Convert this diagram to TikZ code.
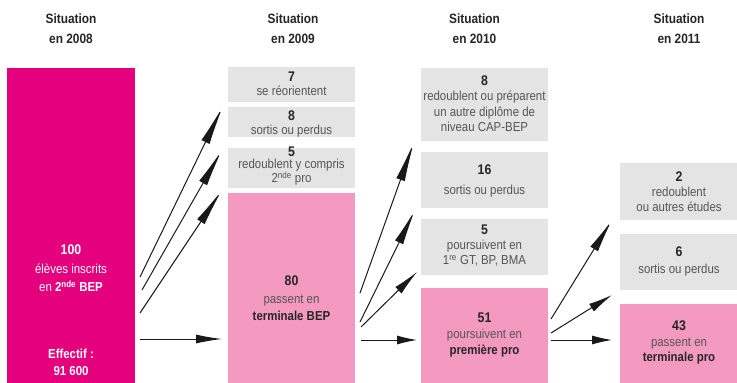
\documentclass[tikz,border=0pt]{standalone}
\usepackage{fontspec}
\setmainfont{Liberation Sans}[FakeStretch=0.88]
\usetikzlibrary{arrows.meta}
\definecolor{mag}{HTML}{E5007D}
\definecolor{lpink}{HTML}{F49AC1}
\definecolor{lgray}{HTML}{E4E4E4}
\definecolor{txtg}{HTML}{555555}
\definecolor{txtd}{HTML}{262626}
\newcommand{\nb}[1]{{\bfseries\color{txtd}\fontsize{14}{14}\selectfont#1}}
\newcommand{\nbw}[1]{{\bfseries #1}}
\begin{document}
\begin{tikzpicture}[x=1pt,y=-1pt,
  box/.style 2 args={minimum width=#1pt,minimum height=#2pt,inner sep=0pt,outer sep=0pt,draw=none},
  gbox/.style 2 args={box={#1}{#2},fill=lgray},
  pbox/.style 2 args={box={#1}{#2},fill=lpink},
  mbox/.style 2 args={box={#1}{#2},fill=mag},
  txt/.style={align=center,inner sep=0pt,text=txtg},
  sp/.style={font=\fontsize{13}{#1}\selectfont},
  hdr/.style={align=center,inner sep=0pt,text=txtd,font=\bfseries\fontsize{13.5}{20}\selectfont},
  arr/.style={draw=black!90,line width=1pt,-{Latex[length=#1,width=9pt]}},
  arr/.default=22pt]
\path[use as bounding box] (0,0) rectangle (737,383);

% headers
\node[hdr] (h1) at (71,29) {Situation\\en 2008};
\node[hdr] (h2) at (293,29) {Situation\\en 2009};
\node[hdr] (h3) at (474.5,29) {Situation\\en 2010};
\node[hdr] (h4) at (679,29) {Situation\\en 2011};

% column 1
\node[mbox={128}{316}] (b1) at (71,225.5) {};
\node[txt,text=white,sp=18.5] (t1a) at (71,268.5) {{\bfseries\fontsize{14}{14}\selectfont 100}\\élèves inscrits\\en \nbw{2\textsuperscript{nde} BEP}};
\node[txt,text=white,sp=17] (t1b) at (71,362.5) {\nbw{Effectif :}\\\nbw{91 600}};

% column 2
\node[gbox={127}{35}] (g21) at (291.5,84.5) {};
\node[gbox={127}{30}] (g22) at (291.5,122) {};
\node[gbox={127}{40}] (g23) at (291.5,168) {};
\node[pbox={127}{191}] (p2) at (291.5,288.5) {};
\node[txt,sp=14] (t21) at (291.5,84) {\nb{7}\\se réorientent};
\node[txt,sp=14] (t22) at (291.5,123.5) {\nb{8}\\sortis ou perdus};
\node[txt,sp=12] (t23) at (291.5,166) {\nb{5}\\redoublent y compris\\2\textsuperscript{nde} pro};
\node[txt,sp=17.5] (t2p) at (291.5,298.5) {\nb{80}\\passent en\\{\bfseries\color{txtd}terminale BEP}};

% column 3
\node[gbox={127}{73}] (g31) at (484.5,104.5) {};
\node[gbox={127}{56}] (g32) at (484.5,180) {};
\node[gbox={127}{56}] (g33) at (484.5,247) {};
\node[pbox={127}{96}] (p3) at (484.5,336) {};
\node[txt,sp=15.5] (t31) at (484.5,103.5) {\nb{8}\\redoublent ou préparent\\un autre diplôme de\\niveau CAP-BEP};
\node[txt,sp=20] (t32) at (484.5,180.5) {\nb{16}\\sortis ou perdus};
\node[txt,sp=15] (t33) at (484.5,246) {\nb{5}\\poursuivent en\\1\textsuperscript{re} GT, BP, BMA};
\node[txt,sp=16] (t3p) at (484.5,335) {\nb{51}\\poursuivent en\\{\bfseries\color{txtd}première pro}};

% column 4
\node[gbox={117}{57}] (g41) at (678.5,191.5) {};
\node[gbox={117}{56}] (g42) at (678.5,262) {};
\node[pbox={117}{80}] (p4) at (678.5,344) {};
\node[txt,sp=15] (t41) at (679,192) {\nb{2}\\redoublent\\ou autres études};
\node[txt,sp=17] (t42) at (679,261.5) {\nb{6}\\sortis ou perdus};
\node[txt,sp=15.5] (t4p) at (679,342.5) {\nb{43}\\passent en\\{\bfseries\color{txtd}terminale pro}};

% arrow end points
\coordinate (a1s) at (140,277); \coordinate (a1e) at (223,106);
\coordinate (a2s) at (142,290); \coordinate (a2e) at (222,150);
\coordinate (a3s) at (140,313); \coordinate (a3e) at (222,190);
\coordinate (a4s) at (140,339); \coordinate (a4e) at (222,339);
\coordinate (b1s) at (360,293); \coordinate (b1e) at (414,142);
\coordinate (b2s) at (360,322); \coordinate (b2e) at (415,210);
\coordinate (b3s) at (361,327); \coordinate (b3e) at (417,272);
\coordinate (b4s) at (361,340); \coordinate (b4e) at (417,340);
\coordinate (c1s) at (551,319); \coordinate (c1e) at (612,220);
\coordinate (c2s) at (551,333); \coordinate (c2e) at (612,295);
\coordinate (c3s) at (551,340); \coordinate (c3e) at (612,340);

\draw[arr=40pt] (a1s) -- (a1e);
\draw[arr=38pt] (a2s) -- (a2e);
\draw[arr=38pt] (a3s) -- (a3e);
\draw[arr=26pt] (a4s) -- (a4e);
\draw[arr=40pt] (b1s) -- (b1e);
\draw[arr=36pt] (b2s) -- (b2e);
\draw[arr=26pt] (b3s) -- (b3e);
\draw[arr=20pt] (b4s) -- (b4e);
\draw[arr=34pt] (c1s) -- (c1e);
\draw[arr=24pt] (c2s) -- (c2e);
\draw[arr=20pt] (c3s) -- (c3e);
\end{tikzpicture}
\end{document}
